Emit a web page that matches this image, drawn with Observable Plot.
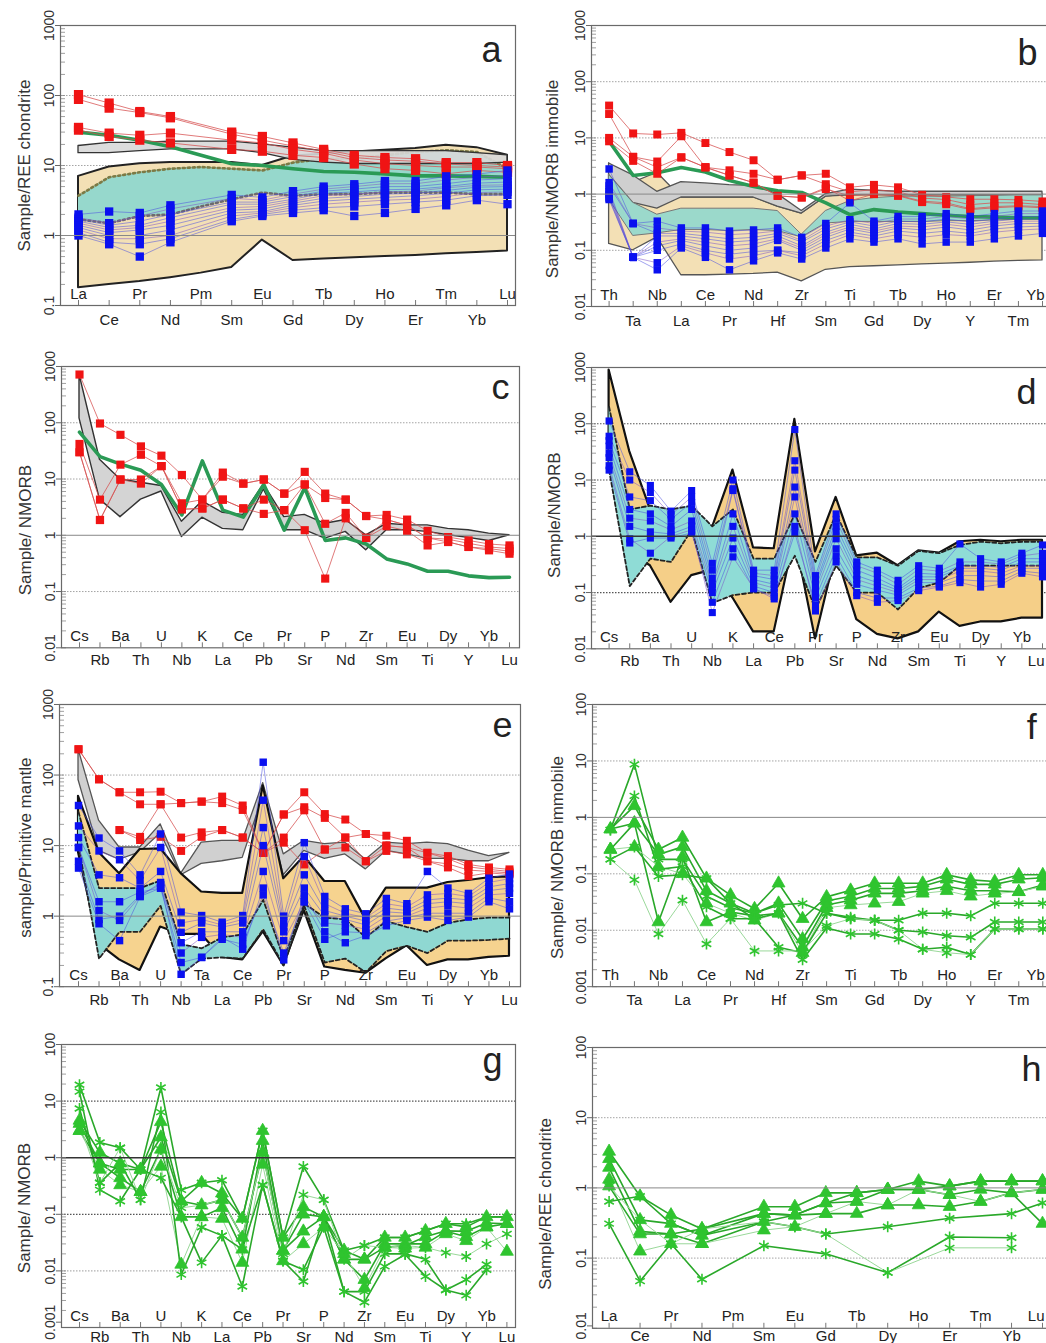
<!DOCTYPE html>
<html><head><meta charset="utf-8">
<script src="https://cdn.jsdelivr.net/npm/d3@7"></script>
<script src="https://cdn.jsdelivr.net/npm/@observablehq/plot@0.6"></script>
<style>
html,body{margin:0;padding:0;background:#fff;overflow:hidden;width:1046px;height:1343px;}
#fig{position:relative;width:1046px;height:1343px;overflow:hidden;background:#fff;}
.panel{position:absolute;}
</style></head><body><div id="fig"></div><script>
// ---------- element lists ----------
const REE = ["La","Ce","Pr","Nd","Pm","Sm","Eu","Gd","Tb","Dy","Ho","Er","Tm","Yb","Lu"];
const IMM = ["Th","Ta","Nb","La","Ce","Pr","Nd","Hf","Zr","Sm","Ti","Gd","Tb","Dy","Ho","Y","Er","Tm","Yb"];
const SPK = ["Cs","Rb","Ba","Th","U","Nb","K","La","Ce","Pb","Pr","Sr","P","Nd","Zr","Sm","Eu","Ti","Dy","Y","Yb","Lu"];
const SPTA = ["Cs","Rb","Ba","Th","U","Nb","Ta","La","Ce","Pb","Pr","Sr","P","Nd","Zr","Sm","Eu","Ti","Dy","Y","Yb","Lu"];

// ---------- panel a (REE / chondrite) ----------
const aRed = [
 [103,78,59,50,null,30,26,21,17,14,13,12.5,11,11,10],
 [88,66,57,48,null,28,23,19,16,13,12,11.5,10.5,10,9.5],
 [35,29,27,29,null,23,21,17,15,12,10.6,10,9.5,9.5,9],
 [32,26,23,21,null,17,16,14,13,10.5,9,8.5,7.6,8.5,8]];
const aBlue = [
 [2.0,2.2,2.1,2.7,null,3.8,3.5,4.3,5.0,5.4,6.0,6.0,7.0,7.5,8.5],
 [1.8,1.5,1.9,2.4,null,3.4,3.2,3.9,4.6,5.0,5.5,5.5,6.2,6.8,7.2],
 [1.7,1.4,1.6,2.0,null,3.0,3.0,3.6,4.3,4.6,5.0,5.0,5.5,6.2,6.5],
 [1.6,1.3,1.4,1.8,null,2.8,2.8,3.3,4.0,4.2,4.5,4.6,5.0,5.6,5.8],
 [1.5,1.2,1.3,1.6,null,2.5,2.6,3.1,3.7,3.9,4.2,4.3,4.8,5.2,5.3],
 [1.4,1.1,1.2,1.4,null,2.3,2.4,2.9,3.4,3.6,3.9,4.0,4.4,4.9,5.0],
 [1.3,1.0,1.0,1.2,null,2.1,2.2,2.7,3.1,3.3,3.5,3.7,4.0,4.5,4.6],
 [1.2,0.9,0.9,1.0,null,1.9,2.1,2.5,2.8,3.0,3.2,3.3,3.6,4.1,4.2],
 [1.1,0.8,0.75,0.9,null,1.7,2.0,2.3,2.5,2.6,2.8,3.0,3.2,3.7,3.8],
 [1.0,0.75,0.5,0.8,null,1.6,1.9,2.1,2.3,1.9,2.1,2.4,2.7,3.2,2.8]];
const aGreen = [30,27,23,18.5,14,10.6,10,9,8.2,8,7.6,7.1,7.1,7,6.8];
const aTanHi = [7,9.5,10.6,11,11,11,10,13.7,14.5,15.6,16.5,17.5,19.5,18,14];
const aTanLo = [0.18,0.2,0.22,0.25,0.29,0.35,0.86,0.44,0.46,0.48,0.5,0.52,0.55,0.57,0.6];
const aTealHi = [3.7,6.8,8,9,9.5,9,8.5,11,12.5,12.5,14,15.6,16.5,15.6,9];
const aTealLo = [1.7,1.5,1.9,2.0,2.6,3.3,4.1,3.7,3.9,3.9,4.1,4.1,4.1,3.9,3.9];
const aGrayHi = [19,21,21,22,22,22,20,18,16,16,16,16,16,15,14];
const aGrayLo = [15,15,16,17,17,17,15,12,11,10.5,10.5,10.5,10.5,10.5,11];

// ---------- panel b (NMORB immobile) ----------
const bRed = [
 [37.6,12,11.5,12.3,8.1,5.6,4.0,1.8,2.15,2.3,1.32,1.46,1.32,0.97,0.89,0.81,0.81,0.79,0.74],
 [26.6,4.6,3.8,10.7,3.0,2.65,2.3,1.8,2.15,1.5,1.1,1.2,1.1,0.85,0.8,0.65,0.7,0.7,0.65],
 [10,4.6,3.0,4.5,3.0,2.15,1.6,0.93,0.87,1.23,0.93,1.0,0.93,0.72,0.66,0.53,0.57,0.6,0.57],
 [8.7,3.9,2.3,4.5,3.0,2.15,1.6,0.93,0.87,1.3,0.76,1.0,0.95,0.75,0.7,0.55,0.6,0.62,0.6]];
const bBlue = [
 [2.8,0.3,0.33,0.25,0.25,0.22,0.23,0.25,0.17,0.3,0.7,0.33,0.4,0.4,0.45,0.4,0.45,0.5,0.5],
 [1.6,0.3,0.25,0.22,0.21,0.19,0.2,0.22,0.15,0.27,0.35,0.3,0.36,0.36,0.4,0.36,0.4,0.45,0.45],
 [1.4,0.3,0.2,0.2,0.18,0.16,0.17,0.2,0.14,0.24,0.32,0.27,0.33,0.32,0.36,0.32,0.36,0.4,0.4],
 [1.2,0.075,0.18,0.18,0.16,0.14,0.15,0.18,0.12,0.21,0.29,0.24,0.3,0.29,0.32,0.29,0.33,0.36,0.36],
 [1.1,0.075,0.14,0.16,0.14,0.12,0.13,0.16,0.11,0.19,0.26,0.22,0.27,0.26,0.29,0.26,0.3,0.33,0.33],
 [1.0,0.075,0.12,0.15,0.12,0.1,0.11,0.15,0.1,0.17,0.24,0.2,0.25,0.23,0.26,0.23,0.27,0.3,0.3],
 [0.9,0.075,0.1,0.13,0.1,0.085,0.095,0.1,0.09,0.15,0.21,0.18,0.22,0.2,0.22,0.2,0.24,0.26,0.27],
 [0.85,0.075,0.06,0.12,0.09,0.07,0.08,0.1,0.08,0.13,0.19,0.16,0.19,0.17,0.19,0.18,0.21,0.23,0.24],
 [0.8,0.075,0.045,0.11,0.075,0.045,0.065,0.09,0.07,0.11,0.16,0.14,0.16,0.13,0.14,0.14,0.16,0.18,0.2]];
const bGreen = [8.7,2.15,2.4,2.97,2.48,1.75,1.36,1.15,1.07,0.7,0.43,0.53,0.48,0.45,0.42,0.40,0.39,0.38,0.38];
const bTanHi = [3.5,1.6,2.4,0.87,0.87,0.87,0.87,0.6,0.45,0.9,1.0,1.0,1.0,1.0,1.0,1.0,1.0,1.0,1.0];
const bTanLo = [0.13,0.1,0.17,0.036,0.036,0.037,0.038,0.04,0.028,0.045,0.05,0.052,0.054,0.056,0.058,0.06,0.063,0.065,0.066];
const bGrayHi = [3.5,2.15,1.1,1.63,1.55,1.45,1.4,1.0,0.5,1.0,1.2,1.15,1.1,1.1,1.1,1.1,1.1,1.1,1.1];
const bGrayLo = [2.2,0.7,0.55,0.87,0.87,0.87,0.87,0.6,0.45,0.9,0.95,0.95,0.95,0.95,0.95,0.95,0.95,0.95,0.95];
const bTealHi = [2.2,0.7,0.43,0.55,0.55,0.55,0.55,0.5,0.19,0.5,0.75,0.85,0.9,0.9,0.9,0.92,0.93,0.95,0.95];
const bTealLo = [0.8,0.18,0.2,0.23,0.23,0.22,0.23,0.22,0.17,0.3,0.32,0.32,0.32,0.32,0.33,0.33,0.34,0.35,0.35];

// ---------- panel c (NMORB) ----------
const cRed = [
 [720,97,61,38,26,11.8,4.3,13,8.3,9.8,5.5,13.4,5.5,4.3,2.2,2.3,1.9,1.2,0.93,0.81,0.7,0.66],
 [42,4.3,18,27,17,3.7,4.3,11,8.3,9.8,5.5,8,4.6,4.3,2.2,1.9,1.5,0.9,0.85,0.72,0.62,0.58],
 [30,1.87,9.8,9.8,17,2.9,3.0,4.3,3.0,4.3,2.8,8,1.6,2.5,0.9,1.9,1.5,0.9,0.76,0.62,0.58,0.52],
 [30,1.87,9.8,8.3,17,2.9,3.0,4.3,3.0,2.4,2.8,1.23,0.17,2.0,0.9,1.45,1.2,0.66,0.76,0.62,0.54,0.47]];
const cGreen = [68,25,18.4,14.3,8,2.3,21,2.8,2.1,8,1.23,7,0.81,0.9,0.7,0.38,0.31,0.23,0.23,0.19,0.177,0.18];
const cGrayHi = [720,22,9.8,8.6,7.5,1.74,4.0,2.5,2.3,8.0,2.1,2.3,1.6,1.87,1.0,1.6,1.5,1.5,1.3,1.23,1.07,1.0];
const cGrayLo = [120,4.3,2.1,4.3,6.0,0.93,2.05,1.3,1.23,6.5,1.23,1.23,0.87,1.15,0.54,1.23,1.23,1.15,1.0,0.9,0.79,1.0];

// ---------- panel d (NMORB) ----------
const dBlue = [
 [112,14,8,2.8,6.5,0.33,10,0.25,0.25,79,0.2,2.5,0.35,0.25,0.165,0.3,0.27,0.73,0.4,0.35,0.5,0.7],
 [60,10,6,2.4,5,0.25,7,0.22,0.2,22,0.17,2.0,0.3,0.22,0.14,0.26,0.24,0.35,0.35,0.32,0.45,0.5],
 [50,5,4.3,2.0,4,0.18,6.5,0.2,0.17,15,0.14,1.5,0.25,0.18,0.12,0.22,0.21,0.3,0.3,0.28,0.4,0.4],
 [40,3,2.5,1.5,3,0.14,2.5,0.17,0.14,7.5,0.12,1.2,0.2,0.15,0.11,0.19,0.19,0.27,0.27,0.25,0.35,0.35],
 [30,2.1,1.87,1.3,1.87,0.125,1.5,0.15,0.12,5,0.1,0.9,0.17,0.13,0.1,0.17,0.17,0.24,0.24,0.22,0.3,0.3],
 [25,1.5,1.2,1.1,1.5,0.1,0.93,0.13,0.1,2.5,0.08,0.6,0.14,0.11,0.09,0.15,0.15,0.2,0.2,0.19,0.27,0.27],
 [15,0.76,0.93,0.93,1.15,0.067,0.6,0.116,0.085,1.15,0.06,0.45,0.1,0.08,0.08,0.12,0.13,0.17,0.16,0.16,0.24,0.22],
 [18,0.9,0.5,1.0,1.3,0.044,0.43,0.12,0.077,1.5,0.047,0.35,0.088,0.067,0.072,0.108,0.125,0.15,0.125,0.14,0.22,0.19]];
const dTanHi = [900,32,3,2.5,2.2,1.4,15,0.62,0.6,120,0.53,4.9,0.45,0.5,0.3,0.55,0.5,0.8,0.85,0.8,0.85,0.85];
const dTanLo = [20,0.5,0.3,0.067,0.2,0.25,0.08,0.02,0.02,1.0,0.015,0.5,0.033,0.018,0.015,0.02,0.045,0.025,0.03,0.03,0.035,0.035];
const dTealHi = [200,3,3.5,3,3.5,1.5,3,0.4,0.4,2.5,0.35,2.5,0.42,0.42,0.3,0.55,0.5,0.7,0.8,0.75,0.8,0.8];
const dTealLo = [15,0.13,0.4,0.35,1.3,0.065,0.09,0.1,0.1,0.45,0.05,0.3,0.1,0.1,0.05,0.12,0.15,0.3,0.3,0.3,0.3,0.3];

// ---------- panel e (primitive mantle) ----------
const eRed = [
 [232,87,57,57,58,40,42,49.5,37,7.9,27.6,57,28,23.4,14.6,13.8,11.7,7.9,7.1,5.4,4.9,4.6],
 [232,87,57,38.5,38.5,40,42,40,32,7.9,27.6,35,24.7,13,14.6,10,9.4,7.9,6.5,5,4.6,4.3],
 [null,null,16.6,13.3,38.5,13,15.4,16.6,13,7.9,13,31.6,8.8,13,6,10,9.4,6,5.5,4.5,4.3,4.1],
 [null,null,16.6,12,13.3,8.4,13.3,16.6,13,7.9,11,5.4,8.8,9.4,6,8.4,7.5,6,4.9,3.7,4.1,3.9]];
const eBlue = [
 [37,12.8,8.4,3.85,14.6,1.14,1.02,0.82,1.02,152,1.0,11,1.9,1.27,1.08,1.78,1.5,4.3,2.5,2.1,3.45,3.95],
 [19,8.4,6.3,3.2,9.4,0.8,0.9,0.75,0.9,44,0.8,7,1.5,1.1,0.95,1.5,1.35,2.0,2.1,1.9,3.0,3.4],
 [13,3.85,3.5,2.5,4.3,0.59,0.8,0.7,0.8,18,0.7,3.85,1.2,1.0,0.85,1.3,1.2,1.7,1.8,1.7,2.6,2.9],
 [9.4,1.6,1.6,2.2,2.5,0.42,0.6,0.6,0.6,10,0.6,2.5,1.0,0.9,0.75,1.15,1.1,1.5,1.6,1.5,2.3,2.5],
 [9.4,1.2,0.87,1.9,3.0,0.3,0.5,0.55,0.5,4.3,0.45,1.6,0.8,0.75,0.65,1.0,1.0,1.3,1.4,1.3,2.0,2.1],
 [4.8,0.78,0.45,1.9,2.5,0.22,0.26,0.47,0.4,2.0,0.3,1.6,0.47,0.6,0.58,0.85,0.95,1.1,1.1,1.1,1.8,1.6],
 [6,0.9,1.0,2.0,2.8,0.15,0.26,0.5,0.34,2.5,0.24,2.0,0.6,0.42,0.53,0.73,0.87,0.97,0.87,0.97,1.6,1.27]];
const eGrayHi = [232,22.6,9.4,9.4,20,4.0,11,11.7,11.7,77,7.5,11.7,10.5,11,6.3,11,10.5,11,10.5,8.5,7.1,7.9];
const eGrayLo = [85,8.4,6.3,8.0,15,3.8,5.5,6.0,6.7,50,3.8,8.4,6.5,7.5,4.6,8.4,7.5,6.5,6.5,6.0,6.0,7.9];
const eTanHi = [50,8,4,8.8,9,4,2.2,2.1,2.1,70,3.4,7,3.1,3.1,0.9,2.5,2.5,2.5,3.0,3.2,3.5,3.6];
const eTanLo = [8,0.4,0.24,0.17,0.7,0.55,0.55,0.26,0.24,0.6,0.2,1.2,0.19,0.17,0.155,0.25,0.38,0.2,0.24,0.24,0.26,0.27];
const eTealHi = [30,2.5,2.5,2.5,3.2,0.4,0.35,0.5,0.55,1.7,0.25,1.5,0.95,0.9,0.5,0.85,0.7,0.6,0.8,0.9,0.95,0.95];
const eTealLo = [10,0.25,0.6,0.6,1.4,0.15,0.25,0.26,0.25,0.65,0.2,1.4,0.22,0.25,0.16,0.32,0.38,0.3,0.45,0.45,0.46,0.48];

// ---------- panel f (NMORB immobile, green) ----------
const fTri = [
 [0.62,1.6,0.27,0.44,0.083,0.042,0.024,0.068,0.016,0.039,0.051,0.068,0.068,0.068,0.096,0.078,0.073,0.096,0.096],
 [0.62,0.79,0.22,0.3,0.05,0.03,0.02,0.03,0.007,0.033,0.04,0.055,0.055,0.06,0.08,0.065,0.065,0.08,0.085],
 [0.27,0.79,0.014,0.2,0.014,0.021,0.018,0.02,0.005,0.028,0.034,0.045,0.045,0.05,0.06,0.05,0.05,0.048,0.063],
 [0.27,0.3,0.135,0.1,0.03,0.02,0.015,0.02,0.004,0.025,0.028,0.03,0.032,0.045,0.05,0.04,0.045,0.048,0.06]];
const fAst = [
 [0.6,8.7,0.18,0.18,0.04,0.025,0.02,0.028,0.03,0.02,0.017,0.015,0.015,0.02,0.02,0.018,0.03,0.03,0.03],
 [0.6,2.4,0.12,0.135,0.026,0.016,0.016,0.02,0.003,0.011,0.0086,0.0086,0.007,0.0046,0.005,0.0037,0.0105,0.0105,0.0105],
 [0.18,0.3,0.09,0.096,0.083,0.03,0.016,0.005,0.004,0.02,0.016,0.015,0.01,0.0093,0.008,0.0075,0.014,0.014,0.014],
 [0.18,0.078,0.0086,0.034,0.0057,0.016,0.0043,0.0043,0.0043,0.012,0.016,0.015,0.01,0.0046,0.004,0.0037,0.0105,0.0105,0.0105]];

// ---------- panel g (NMORB, green) ----------
const gTri = [
 [4.55,1.23,0.8,0.62,4.3,0.17,0.36,0.235,0.084,3.0,0.039,0.135,0.09,0.023,0.016,0.039,0.039,0.051,0.068,0.06,0.09,0.09],
 [4,0.8,0.62,0.62,2.3,0.17,0.145,0.18,0.039,1.23,0.023,0.1,0.09,0.016,0.016,0.026,0.028,0.04,0.051,0.05,0.07,0.068],
 [3.0,0.8,0.44,0.25,1.4,0.09,0.09,0.13,0.024,2.0,0.023,0.05,0.09,0.016,0.007,0.03,0.03,0.03,0.05,0.04,0.06,0.068],
 [3.0,0.62,0.33,0.25,0.7,0.013,0.09,0.084,0.014,0.76,0.015,0.03,0.059,0.02,0.005,0.026,0.025,0.026,0.045,0.034,0.059,0.022]];
const gAst = [
 [19.4,1.86,1.5,0.62,17.4,0.27,0.36,0.4,0.084,3.0,0.039,0.7,0.18,0.023,0.028,0.039,0.039,0.051,0.068,0.068,0.09,0.09],
 [7.4,0.36,0.8,0.18,6.4,0.0086,0.059,0.042,0.0053,0.33,0.015,0.0065,0.09,0.0043,0.0028,0.012,0.0195,0.008,0.0046,0.0037,0.0105,null],
 [14.7,0.27,0.17,0.62,0.44,0.09,0.014,0.042,0.024,0.33,0.015,0.0105,0.059,0.0043,0.0043,0.02,0.02,0.016,0.0046,0.007,0.013,null],
 [4,0.36,1.5,0.18,1.4,0.13,0.145,0.18,0.039,1.23,0.02,0.22,0.18,0.016,0.028,0.026,0.028,0.026,0.021,0.018,0.03,0.045]];

// ---------- panel h (REE chondrite, green) ----------
const hTri = [
 [3.3,0.76,0.41,0.26,null,0.54,0.54,0.85,0.85,0.95,1.25,1.06,1.25,1.25,1.25],
 [2.6,0.35,0.31,0.21,null,0.43,0.41,0.61,0.64,0.95,0.95,0.8,0.95,0.85,0.95],
 [1.95,0.24,0.22,0.16,null,0.33,0.41,0.43,0.43,0.57,0.57,0.54,0.64,0.85,0.31],
 [1.32,0.125,0.16,0.16,null,0.25,0.28,0.43,0.64,0.57,0.95,0.8,0.64,0.85,0.95],
 [1.06,0.22,0.22,0.26,null,0.43,0.41,0.61,0.85,0.95,0.95,1.06,1.25,1.25,1.25]];
const hAst = [
 [0.64,0.76,0.31,0.21,null,0.33,0.28,0.22,null,0.28,null,0.37,null,0.43,0.61],
 [0.31,0.047,0.16,0.05,null,0.15,null,0.115,null,0.062,null,0.2,null,0.195,null],
 [1.06,0.35,0.16,0.26,null,0.33,0.28,0.22,null,0.062,null,0.14,null,0.14,null]];

// ---------- helpers ----------
function rows(series) {
  const out = [];
  series.forEach((s, k) => s.forEach((v, i) => { if (v != null) out.push({k, i, v}); }));
  return out;
}
function one(s) { return rows([s]); }
function band(hi, lo) { return hi.map((h, i) => ({i, hi: h, lo: lo[i]})); }

const FONT = "'Liberation Sans', Arial, Helvetica, sans-serif";
const RED = "#f01414", REDLINE = "#d65050", BLUE = "#0a10f0", BLUELINE = "#4a4ee0";
const GREEN = "#2fc42f", GREENLINE = "#2aa82a", GREENTHICK = "#2a9a55";
const PAGE_RIGHT = 1046, PAGE_BOTTOM = 1343;

function redMarks(series, r) {
  return [
    Plot.line(rows(series), {x: "i", y: "v", z: "k", stroke: REDLINE, strokeWidth: 0.9, strokeOpacity: 0.85, clip: true}),
    Plot.dot(rows(series), {x: "i", y: "v", symbol: "square", r, fill: RED, stroke: "none"})
  ];
}
function blueMarks(series, r) {
  return [
    Plot.line(rows(series), {x: "i", y: "v", z: "k", stroke: (d) => d.k % 3 === 1 ? "#7a52c8" : BLUELINE, strokeWidth: 0.7, strokeOpacity: 0.75, clip: true}),
    Plot.dot(rows(series), {x: "i", y: "v", symbol: "square", r, fill: BLUE, stroke: "none"})
  ];
}
function greenMarks(tri, ast) {
  const all = rows(tri.concat(ast));
  return [
    Plot.line(all, {x: "i", y: "v", z: "k", stroke: (d) => d.k % 4 === 3 ? "#9ad89a" : GREENLINE, strokeWidth: (d) => d.k % 4 === 3 ? 1 : 1.6, clip: true}),
    Plot.dot(rows(tri), {x: "i", y: "v", symbol: "triangle", r: 4.8, fill: GREEN, stroke: GREEN, strokeWidth: 0.8}),
    Plot.dot(rows(ast), {x: "i", y: "v", symbol: "asterisk", r: 5.2, stroke: GREEN, strokeWidth: 1.6, fill: "none"})
  ];
}
function field(hi, lo, fill, stroke, sw, extra = {}) {
  return Plot.areaY(band(hi, lo), {x: "i", y1: "lo", y2: "hi", fill, stroke: stroke || "none", strokeWidth: sw || 0, curve: "linear", clip: true, ...extra});
}
function edge(arr, stroke, sw, dash) {
  return Plot.line(arr.map((v, i) => ({i, v})), {x: "i", y: "v", stroke, strokeWidth: sw, strokeDasharray: dash, clip: true});
}
function thickGreen(s) {
  return Plot.line(one(s), {x: "i", y: "v", stroke: GREENTHICK, strokeWidth: 3.6, strokeLinejoin: "round", clip: true});
}

const fig = document.getElementById("fig");

function panel(cfg) {
  const {L, T, R, B, x0, xN, elems, nLast, yMin, yMax, ylabel, tOff, tDy, letter, lx, ly, marks, gridDark} = cfg;
  const bDy = cfg.bDy ?? 17;
  const mL = 62, mR = 10, mT = 6, mB = 30;
  const sp = (xN - x0) / nLast;
  const d0 = -(x0 - L) / sp, d1 = nLast + (R - xN) / sp;
  const width = mL + (R - L) + mR, height = mT + (B - T) + mB;
  const k0 = Math.round(Math.log10(yMin)), k1 = Math.round(Math.log10(yMax));
  const decades = d3.range(k0, k1 + 1).map(k => +(10 ** k).toPrecision(1));
  const pxDec = (B - T) / (k1 - k0);
  const minor = [];
  for (let k = k0; k < k1; k++) for (let m = 1; m <= 9; m++) minor.push(+(m * 10 ** k).toPrecision(2));
  const idx = d3.range(elems.length);
  // the last label is pulled inside the page when it would be cut at the right edge
  const pull = (xN + 9 > PAGE_RIGHT);
  const lastI = elems.length - 1;
  const normal = pull ? idx.filter(i => i !== lastI) : idx;
  const dotted = decades.filter(d => d !== 1 && d > yMin && d < yMax);
  const gridColor = gridDark ? "#555" : "#9a9a9a";
  const labelMarks = [
    Plot.text(normal.filter(i => i % 2 === 0), {x: d => d, text: d => elems[d], frameAnchor: "bottom", dy: -7, lineAnchor: "bottom", fontSize: 15, fill: "#222"}),
    Plot.text(normal.filter(i => i % 2 === 1), {x: d => d, text: d => elems[d], frameAnchor: "bottom", dy: bDy, lineAnchor: "bottom", fontSize: 15, fill: "#222"})
  ];
  if (pull) {
    labelMarks.push(Plot.text([lastI], {x: d => d, text: d => elems[d], frameAnchor: "bottom",
      dy: lastI % 2 === 0 ? -7 : bDy, dx: (PAGE_RIGHT - 2) - xN, textAnchor: "end", lineAnchor: "bottom", fontSize: 15, fill: "#222"}));
  }
  // bottom tick label: lifted if it would run past the page bottom
  const lowLen = String(yMin).length * 7.8;
  const lift = Math.min(0, (PAGE_BOTTOM - 2) - (B + lowLen / 2));
  const axisOpts = {tickFormat: d => String(d), tickRotate: -90, tickSize: 5, tickPadding: 2, fontSize: 14, label: null, stroke: "#666", fill: "#333"};
  const plot = Plot.plot({
    width, height, marginLeft: mL, marginRight: mR, marginTop: mT, marginBottom: mB,
    x: {type: "linear", domain: [d0, d1], axis: null},
    y: {type: "log", domain: [yMin, yMax], axis: null},
    style: {fontFamily: FONT, background: "transparent", overflow: "visible", maxWidth: "none"},
    marks: [
      Plot.ruleY(dotted, {stroke: (d) => (gridDark === "g" && d < 0.05) ? "#b0b0b0" : gridColor, strokeDasharray: "1.5,1.5", strokeWidth: gridDark ? 1.2 : 0.9}),
      ...marks,
      Plot.ruleY([1], {stroke: gridDark ? "#333" : "#888", strokeWidth: gridDark ? 1.4 : 1}),
      Plot.ruleY(minor, {y: d => d, x1: d0, x2: d0 + 5 / sp, stroke: "#888", strokeWidth: 0.8}),
      Plot.ruleX(idx, {x: d => d, y1: yMin, y2: yMin * 10 ** (5 / pxDec), stroke: "#666", strokeWidth: 0.9}),
      Plot.frame({stroke: "#6a6a6a", strokeWidth: 1.2}),
      Plot.axisY({ticks: decades.slice(1), ...axisOpts}),
      Plot.axisY({ticks: decades.slice(0, 1), ...axisOpts, textStroke: null, dy: lift}),
      ...labelMarks,
      Plot.text([ylabel], {text: d => d, frameAnchor: "left", rotate: -90, dx: -tOff, dy: tDy, fontSize: 17, textAnchor: "middle", lineAnchor: "middle", fill: "#333"}),
      Plot.text([letter], {text: d => d, frameAnchor: "top-right", dx: lx - R, dy: ly - T, fontSize: 36, textAnchor: "middle", lineAnchor: "bottom", fill: "#222"})
    ]
  });
  const div = document.createElement("div");
  div.className = "panel";
  div.style.left = (L - mL) + "px";
  div.style.top = (T - mT) + "px";
  div.appendChild(plot);
  fig.appendChild(div);
}

// ---- a ----
panel({L: 60, T: 25, R: 515, B: 305, x0: 78, xN: 507, elems: REE, nLast: 14, yMin: 0.1, yMax: 1000,
  ylabel: "Sample/REE chondrite", tOff: 36, tDy: 0, letter: "a", lx: 491, ly: 61, bDy: 19,
  marks: [
    field(aTanHi, aTanLo, "#f3e0b5", "#222", 2),
    field(aTealHi, aTealLo, "#96d8cc"),
    edge(aTealHi, "#7d7a45", 2.6, "2,3"),
    edge(aTealLo, "#6d6a70", 2.6, "2,3"),
    field(aGrayHi, aGrayLo, "#d8d8d8", "#333", 1.3, {fillOpacity: 0.9}),
    thickGreen(aGreen),
    ...redMarks(aRed, 5.2),
    ...blueMarks(aBlue, 4.7)
  ]});

// ---- b ----
panel({L: 591, T: 25, R: 1075, B: 306, x0: 608.6, xN: 1042, elems: IMM, nLast: 18, yMin: 0.01, yMax: 1000,
  ylabel: "Sample/NMORB immobile", tOff: 39, tDy: 13, letter: "b", lx: 1027, ly: 64, bDy: 19,
  marks: [
    field(bTanHi, bTanLo, "#f3e0b5", "#555", 1.3),
    field(bGrayHi, bGrayLo, "#cfcfcf", "#555", 1.3),
    field(bTealHi, bTealLo, "#96d8cc", "#777", 1, {fillOpacity: 0.95}),
    thickGreen(bGreen),
    ...redMarks(bRed, 4.5),
    ...blueMarks(bBlue, 4.2)
  ]});

// ---- c ----
panel({L: 61, T: 365.5, R: 519, B: 646.8, x0: 79, xN: 509, elems: SPK, nLast: 21, yMin: 0.01, yMax: 1000,
  ylabel: "Sample/ NMORB", tOff: 36, tDy: 23, letter: "c", lx: 500, ly: 398,
  marks: [
    field(cGrayHi, cGrayLo, "#d4d4d4", "#333", 1.4),
    thickGreen(cGreen),
    ...redMarks(cRed, 4.6)
  ]});

// ---- d ----
panel({L: 591, T: 366.5, R: 1052, B: 647.8, x0: 608.6, xN: 1042, elems: SPK, nLast: 21, yMin: 0.01, yMax: 1000,
  ylabel: "Sample/NMORB", tOff: 37, tDy: 7, letter: "d", lx: 1026, ly: 403, gridDark: true,
  marks: [
    field(dTanHi, dTanLo, "#f5cf88", "#111", 2.2),
    field(dTealHi, dTealLo, "#8fdcd6"),
    edge(dTealHi, "#222", 1.8, "4,2.5"),
    edge(dTealLo, "#222", 1.8, "4,2.5"),
    ...blueMarks(dBlue, 4.0)
  ]});

// ---- e ----
panel({L: 59, T: 703.8, R: 520, B: 986, x0: 78, xN: 509, elems: SPTA, nLast: 21, yMin: 0.1, yMax: 1000,
  ylabel: "sample/Primitive mantle", tOff: 34, tDy: 2, letter: "e", lx: 502, ly: 736, bDy: 18,
  marks: [
    field(eGrayHi, eGrayLo, "#d0d0d0", "#555", 1.3),
    field(eTanHi, eTanLo, "#f6d38f", "#111", 2.2),
    field(eTealHi, eTealLo, "#8fd8d2"),
    edge(eTealHi, "#222", 1.8, "4,2.5"),
    edge(eTealLo, "#222", 1.8, "4,2.5"),
    ...redMarks(eRed, 4.5),
    ...blueMarks(eBlue, 4.2)
  ]});

// ---- f ----
panel({L: 591.7, T: 703.8, R: 1075, B: 986, x0: 609.6, xN: 1042, elems: IMM, nLast: 18, yMin: 0.001, yMax: 100,
  ylabel: "Sample/ NMORB immobile", tOff: 35, tDy: 12, letter: "f", lx: 1031, ly: 738, bDy: 18,
  marks: greenMarks(fTri, fAst)});

// ---- g ----
panel({L: 61, T: 1043.8, R: 515, B: 1326.8, x0: 79, xN: 506.4, elems: SPK, nLast: 21, yMin: 0.001, yMax: 100,
  ylabel: "Sample/ NMORB", tOff: 37, tDy: 22, letter: "g", lx: 492, ly: 1072, gridDark: "g", bDy: 14,
  marks: greenMarks(gTri, gAst)});

// ---- h ----
panel({L: 592, T: 1047, R: 1052, B: 1327.8, x0: 608.6, xN: 1042, elems: REE, nLast: 14, yMin: 0.01, yMax: 100,
  ylabel: "Sample/REE chondrite", tOff: 47, tDy: 16, letter: "h", lx: 1031, ly: 1081, bDy: 13,
  marks: greenMarks(hTri, hAst)});
</script></body></html>
